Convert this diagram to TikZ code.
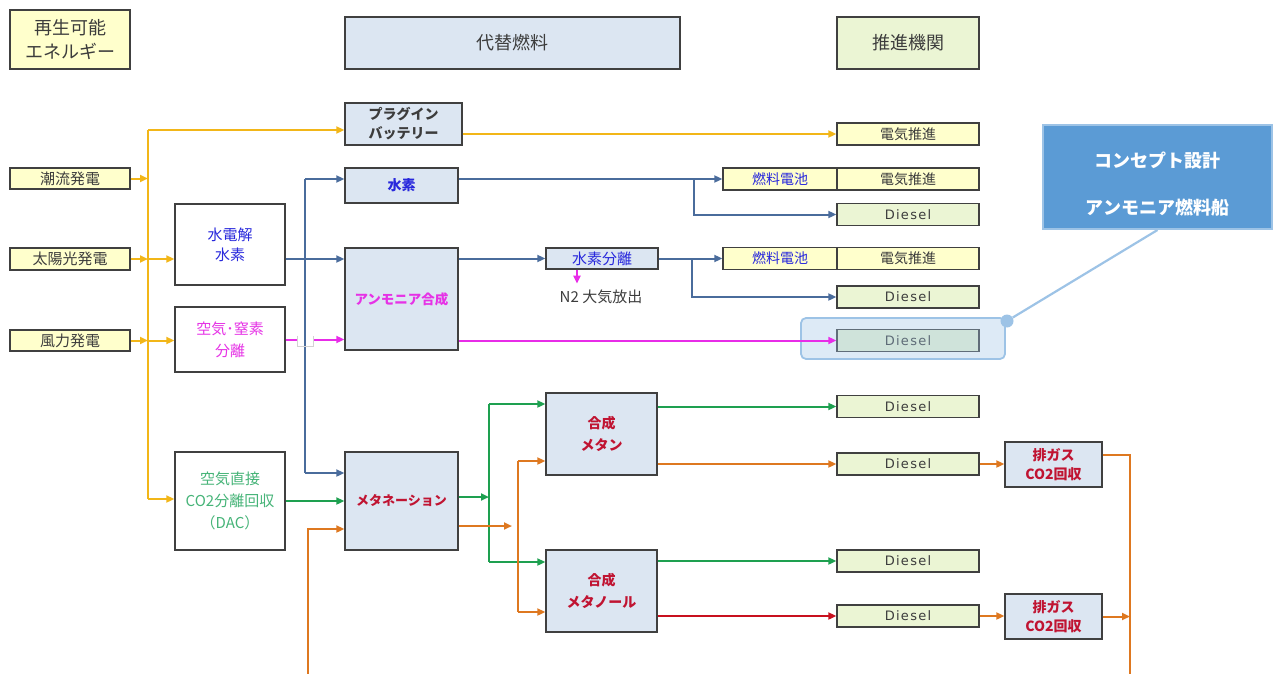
\documentclass[tikz,border=0pt]{standalone}
\usepackage{fontspec}
\setmainfont{Noto Sans CJK JP}
\newfontfamily\dslfont[LetterSpace=10]{DejaVu Sans}
\usetikzlibrary{arrows.meta, positioning, calc}
\definecolor{boxline}{RGB}{64,64,64}
\definecolor{fillY}{RGB}{255,255,204}
\definecolor{fillB}{RGB}{220,230,242}
\definecolor{fillG}{RGB}{235,245,212}
\definecolor{lnYellow}{RGB}{242,182,24}
\definecolor{lnBlue}{RGB}{74,108,156}
\definecolor{lnMag}{RGB}{232,44,232}
\definecolor{lnGreen}{RGB}{30,160,80}
\definecolor{lnOrange}{RGB}{222,120,32}
\definecolor{lnRed}{RGB}{200,16,30}
\definecolor{txBlue}{RGB}{40,40,220}
\definecolor{txMag}{RGB}{230,50,230}
\definecolor{txGreen}{RGB}{70,180,120}
\definecolor{txRed}{RGB}{192,20,50}
\definecolor{txGray}{RGB}{60,60,60}
\definecolor{conceptA}{RGB}{91,155,213}
\definecolor{conceptB}{RGB}{157,195,230}

\begin{document}
\begin{tikzpicture}[x=1pt, y=-1pt,
    box/.style={draw=boxline, line width=1.4pt, inner sep=0pt, align=center, text=txGray, font=\fontsize{14}{17}\selectfont},
    ybox/.style={box, fill=fillY},
    bbox/.style={box, fill=fillB},
    wbox/.style={box, fill=white},
    dsl/.style={box, fill=fillG, minimum width=142pt, minimum height=22pt, font=\dslfont\fontsize{13}{15}\selectfont},
    fcbox/.style={ybox, minimum width=114pt, minimum height=22pt, text=txBlue},
    epbox/.style={ybox, minimum width=142pt, minimum height=22pt},
    flow/.style={line width=2pt, -{Triangle[length=8pt,width=7pt]}},
    bus/.style={line width=2pt}]
    \useasboundingbox (0,0) rectangle (1274,674);

    % headers
    \node[ybox, minimum width=120pt, minimum height=59pt, font=\fontsize{18}{24}\selectfont] (renew) at (70,39.5) {再生可能\\エネルギー};
    \node[bbox, minimum width=335pt, minimum height=52pt, font=\fontsize{18}{22}\selectfont] (alt) at (512.5,43) {代替燃料};
    \node[box, fill=fillG, minimum width=142pt, minimum height=52pt, font=\fontsize{18}{22}\selectfont] (prop) at (908,43) {推進機関};

    % energy sources
    \node[ybox, minimum width=120pt, minimum height=21pt, font=\fontsize{15}{17}\selectfont] (tidal) at (70,178.5) {潮流発電};
    \node[ybox, minimum width=120pt, minimum height=22pt, font=\fontsize{15}{17}\selectfont] (solar) at (70,259) {太陽光発電};
    \node[ybox, minimum width=120pt, minimum height=21pt, font=\fontsize{15}{17}\selectfont] (wind) at (70,340.5) {風力発電};

    % primary processes
    \node[wbox, minimum width=110pt, minimum height=81pt, text=txBlue, font=\fontsize{15}{20}\selectfont] (elec) at (230,244.5) {水電解\\水素};
    \node[wbox, minimum width=110pt, minimum height=65pt, text=txMag, font=\fontsize{15}{22}\selectfont] (airsep) at (230,339.5) {空気･窒素\\分離};
    \node[wbox, minimum width=110pt, minimum height=98pt, text=txGreen, font=\fontsize{15}{22}\selectfont] (dac) at (230,501) {空気直接\\CO2分離回収\\（DAC）};

    % alternative fuels
    \node[bbox, minimum width=117pt, minimum height=42pt, font=\bfseries\fontsize{14}{19}\selectfont] (plugin) at (403.5,124) {プラグイン\\バッテリー};
    \node[bbox, minimum width=113pt, minimum height=35pt, text=txBlue, font=\bfseries\fontsize{14}{17}\selectfont] (hydro) at (401.5,185.5) {水素};
    \node[bbox, minimum width=113pt, minimum height=102pt, text=txMag, font=\bfseries\fontsize{13.5}{17}\selectfont] (ammonia) at (401.5,299) {アンモニア合成};
    \node[bbox, minimum width=113pt, minimum height=98pt, text=txRed, font=\bfseries\fontsize{13}{17}\selectfont] (methan) at (401.5,501) {メタネーション};
    \node[bbox, minimum width=112pt, minimum height=21pt, text=txBlue, font=\fontsize{15}{17}\selectfont] (h2sep) at (602,258.5) {水素分離};
    \node[text=txGray, font=\fontsize{15}{17}\selectfont, inner sep=1pt] (n2) at (601,297) {N2 大気放出};
    \node[bbox, minimum width=111pt, minimum height=82pt, text=txRed, font=\bfseries\fontsize{14}{22}\selectfont] (synme) at (601.5,434) {合成\\メタン};
    \node[bbox, minimum width=111pt, minimum height=82pt, text=txRed, font=\bfseries\fontsize{14}{22}\selectfont] (synmeoh) at (601.5,591) {合成\\メタノール};

    % propulsion
    \node[epbox] (ep0) at (908,134) {電気推進};
    \node[fcbox] (fc1) at (780,179) {燃料電池};
    \node[epbox] (ep1) at (908,179) {電気推進};
    \node[dsl] (d1) at (908,214.5) {Diesel};
    \node[fcbox] (fc2) at (780,258.5) {燃料電池};
    \node[epbox] (ep2) at (908,258.5) {電気推進};
    \node[dsl] (d2) at (908,297) {Diesel};
    \node[dsl] (d3) at (908,340.5) {Diesel};
    \node[dsl] (d4) at (908,406.5) {Diesel};
    \node[dsl] (d5) at (908,464) {Diesel};
    \node[dsl] (d6) at (908,561) {Diesel};
    \node[dsl] (d7) at (908,616) {Diesel};
    \node[bbox, minimum width=97pt, minimum height=45pt, text=txRed, font=\bfseries\fontsize{14}{19}\selectfont] (exh1) at (1053.5,464.5) {排ガス\\CO2回収};
    \node[bbox, minimum width=97pt, minimum height=45pt, text=txRed, font=\bfseries\fontsize{14}{19}\selectfont] (exh2) at (1053.5,616.5) {排ガス\\CO2回収};

    % highlight and callout
    \node[draw=conceptB, line width=1.8pt, fill=conceptB, fill opacity=0.35, rounded corners=5pt, minimum width=204pt, minimum height=41pt] (hl) at (903,338.5) {};
    \node[draw=conceptB, line width=2pt, fill=conceptA, text=white, minimum width=229pt, minimum height=104pt, align=center, font=\bfseries\fontsize{18}{47}\selectfont] (concept) at (1157.5,177) {\rule{0pt}{30pt}コンセプト設計\\アンモニア燃料船};
    \node[circle, fill=conceptB, minimum size=13pt, inner sep=0pt] (dot) at (1007,321) {};
    \draw[conceptB, line width=2.2pt] (concept.south) -- (dot);

    % yellow: electricity
    \coordinate (ytop) at (148,130);
    \coordinate (ybot) at (148,499);
    \draw[bus, lnYellow] (ytop) -- (ybot);
    \draw[flow, lnYellow] (ytop) -- (ytop -| plugin.west);
    \draw[flow, lnYellow] (tidal.east) -- (tidal.east -| ytop);
    \draw[flow, lnYellow] (solar.east) -- (solar.east -| ytop);
    \draw[flow, lnYellow] (solar.east -| ytop) -- (solar.east -| elec.west);
    \draw[flow, lnYellow] (wind.east) -- (wind.east -| ytop);
    \draw[flow, lnYellow] (wind.east -| ytop) -- (wind.east -| airsep.west);
    \draw[flow, lnYellow] (ybot) -- (ybot -| dac.west);
    \draw[flow, lnYellow] (plugin.east |- ep0) -- (ep0.west);

    % blue: hydrogen
    \coordinate (btop) at (305,179);
    \coordinate (bbot) at (305,473);
    \draw[bus, lnBlue] (btop) -- (bbot);
    \draw[flow, lnBlue] (btop) -- (btop -| hydro.west);
    \draw[flow, lnBlue] (bbot) -- (bbot -| methan.west);
    \draw[flow, lnBlue] (elec.east |- solar) -- (ammonia.west |- solar);
    \draw[flow, lnBlue] (hydro.east |- fc1) -- (fc1.west);
    \coordinate (hb1) at (694,179);
    \draw[flow, lnBlue] (hb1) |- (d1.west);
    \draw[flow, lnBlue] (ammonia.east |- h2sep) -- (h2sep.west);
    \draw[flow, lnBlue] (h2sep.east) -- (fc2.west);
    \coordinate (hb2) at (692,258.5);
    \draw[flow, lnBlue] (hb2) |- (d2.west);

    % magenta: nitrogen / ammonia
    \coordinate (hopL) at (297,339.5);
    \coordinate (hopR) at (313,339.5);
    \draw[bus, lnMag] (airsep.east) -- (hopL);
    \draw[flow, lnMag] (hopR) -- (hopR -| ammonia.west);
    \draw[gray!35, line width=0.8pt] ($(hopL)+(0,-4)$) -- ($(hopL)+(0,7)$) -- ($(hopR)+(0,7)$) -- ($(hopR)+(0,-4)$);
    \draw[flow, lnMag] (ammonia.east |- d3) -- (d3.west);
    \draw[flow, lnMag] ([xshift=-25pt]h2sep.south) -- ++(0,14);

    % green: CO2
    \draw[flow, lnGreen] (dac.east) -- (dac.east -| methan.west);
    \coordinate (gmid) at (489,497);
    \coordinate (gtop) at (489,404);
    \coordinate (gbot) at (489,562);
    \draw[flow, lnGreen] (methan.east |- gmid) -- (gmid);
    \draw[bus, lnGreen] (gtop) -- (gbot);
    \draw[flow, lnGreen] (gtop) -- (gtop -| synme.west);
    \draw[flow, lnGreen] (gbot) -- (gbot -| synmeoh.west);
    \draw[flow, lnGreen] (synme.east |- d4) -- (d4.west);
    \draw[flow, lnGreen] (synmeoh.east |- d6) -- (d6.west);

    % orange: recovered CO2
    \coordinate (omid) at (512,526);
    \coordinate (otop) at (518,461);
    \coordinate (obot) at (518,612);
    \draw[flow, lnOrange] (methan.east |- omid) -- (omid);
    \draw[bus, lnOrange] (otop) -- (obot);
    \draw[flow, lnOrange] (otop) -- (otop -| synme.west);
    \draw[flow, lnOrange] (obot) -- (obot -| synmeoh.west);
    \draw[flow, lnOrange] (synme.east |- d5) -- (d5.west);
    \draw[flow, lnRed] (synmeoh.east |- d7) -- (d7.west);
    \draw[flow, lnOrange] (d5.east) -- (d5.east -| exh1.west);
    \draw[flow, lnOrange] (d7.east) -- (d7.east -| exh2.west);
    \coordinate (ret1) at (1130,674);
    \coordinate (ret2) at (308,674);
    \draw[bus, lnOrange] ([yshift=9.5pt]exh1.east) -| (ret1);
    \draw[flow, lnOrange] (exh2.east) -- (exh2.east -| ret1);
    \draw[flow, lnOrange] (ret2) |- ([yshift=-28pt]methan.west);
\end{tikzpicture}
\end{document}
